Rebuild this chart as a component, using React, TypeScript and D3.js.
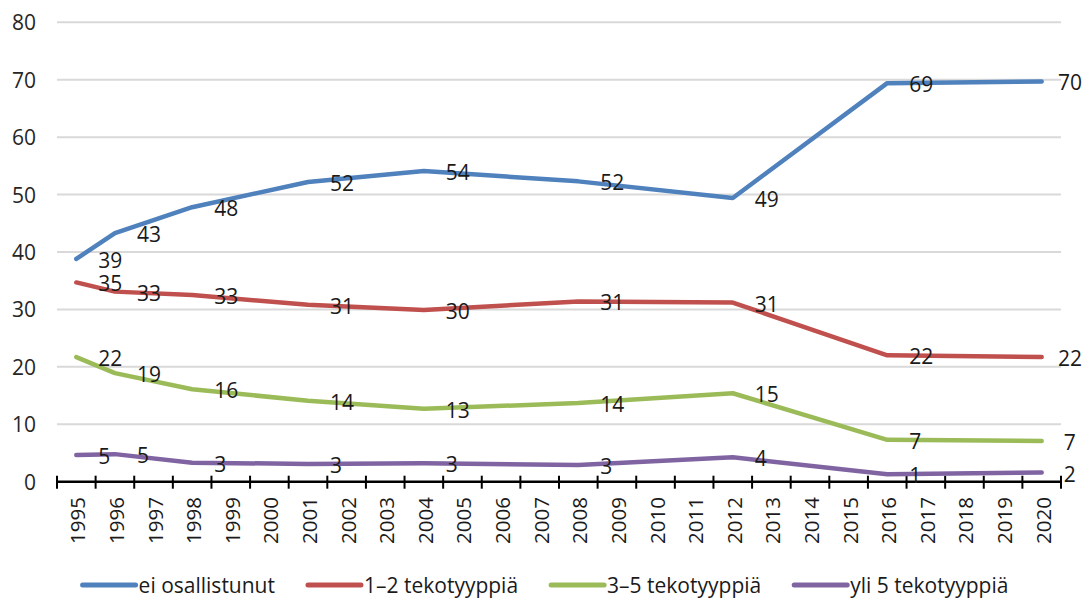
import React from "react";
import * as d3 from "d3";

const years: string[] = Array.from({ length: 26 }, (_, i) => String(1995 + i));
const dataYears: string[] = ["1995", "1996", "1998", "2001", "2004", "2008", "2012", "2016", "2020"];
const eiOsallistunut: number[] = [38.8, 43.3, 47.8, 52.2, 54.1, 52.3, 49.4, 69.4, 69.7];
const tekotyyppia12: number[] = [34.7, 33.1, 32.5, 30.8, 29.9, 31.4, 31.2, 22.0, 21.7];
const tekotyyppia35: number[] = [21.7, 18.9, 16.1, 14.1, 12.7, 13.7, 15.4, 7.3, 7.1];
const yli5: number[] = [4.65, 4.8, 3.3, 3.1, 3.2, 2.9, 4.25, 1.3, 1.6];
const seriesNames: string[] = ["ei osallistunut", "1–2 tekotyyppiä", "3–5 tekotyyppiä", "yli 5 tekotyyppiä"];
const seriesColors: string[] = ["#4f81bd", "#c0504d", "#9bbb59", "#8064a2"];
const yTicks: number[] = [0, 10, 20, 30, 40, 50, 60, 70, 80];

const W = 1086;
const H = 599;
const FONT = "'Open Sans', sans-serif";

function measure(text: string, size: number): number {
  if (typeof document === "undefined") return text.length * size * 0.55;
  const c = document.createElement("canvas");
  const ctx = c.getContext("2d");
  if (!ctx) return text.length * size * 0.55;
  ctx.font = `${size}px 'Open Sans'`;
  return ctx.measureText(text).width;
}

export default function App() {
  const x = d3.scaleBand<string>().domain(years).range([57, 1061]).padding(0);
  const y = d3.scaleLinear().domain([0, 80]).range([481.7, 22.3]);
  const cx = (yr: string) => (x(yr) as number) + x.bandwidth() / 2;

  const allSeries = [eiOsallistunut, tekotyyppia12, tekotyyppia35, yli5];
  const line = d3
    .line<number>()
    .x((_, i) => cx(dataYears[i]))
    .y((d) => y(d))
    .curve(d3.curveLinear);

  const labelSize = 21;
  const legendSize = 21;
  const legendLine = 55;
  const legendGap = 30;
  const itemWidths = seriesNames.map((n) => legendLine + 4 + measure(n, legendSize));
  const totalLegend = itemWidths.reduce((a, b) => a + b, 0) + legendGap * (seriesNames.length - 1);
  let lx = 545 - totalLegend / 2;
  const legendX: number[] = itemWidths.map((w) => {
    const v = lx;
    lx += w + legendGap;
    return v;
  });

  return (
    <svg
      width={W}
      height={H}
      style={{ position: "absolute", left: 0, top: 0, background: "#fff" }}
      fontFamily={FONT}
    >
      <rect x={0} y={0} width={W} height={H} fill="#fff" />
      {yTicks.map((t) => (
        <g key={t}>
          {t > 0 && (
            <line x1={57} x2={1061} y1={y(t)} y2={y(t)} stroke="#d9d9d9" strokeWidth={2} />
          )}
          <text
            x={36}
            y={y(t)}
            textAnchor="end"
            dominantBaseline="central"
            fontSize={21}
            fill="#262626"
          >
            {t}
          </text>
        </g>
      ))}
      {/* x axis */}
      <line x1={56} x2={1062} y1={y(0)} y2={y(0)} stroke="#000" strokeWidth={2.5} />
      {years.map((yr) => (
        <line
          key={"t" + yr}
          x1={x(yr) as number}
          x2={x(yr) as number}
          y1={y(0) - 6}
          y2={y(0) + 7}
          stroke="#000"
          strokeWidth={2}
        />
      ))}
      <line x1={1061} x2={1061} y1={y(0) - 6} y2={y(0) + 7} stroke="#000" strokeWidth={2} />
      {years.map((yr) => (
        <text
          key={"l" + yr}
          transform={`translate(${cx(yr) + 1},497) rotate(-90)`}
          textAnchor="end"
          dominantBaseline="central"
          fontSize={20.5}
          fill="#1a1a1a"
        >
          {yr}
        </text>
      ))}
      {allSeries.map((s, si) => (
        <path
          key={"s" + si}
          d={line(s) || ""}
          fill="none"
          stroke={seriesColors[si]}
          strokeWidth={4.5}
          strokeLinejoin="round"
          strokeLinecap="round"
        />
      ))}
      {allSeries.map((s, si) =>
        s.map((v, i) => {
          const px = cx(dataYears[i]);
          const txt = String(Math.round(v));
          const w = measure(txt, labelSize);
          let tx = px + 22;
          if (tx + w > 1082) tx = 1082 - w;
          return (
            <text
              key={`d${si}-${i}`}
              x={tx}
              y={y(v) + 1}
              dominantBaseline="central"
              fontSize={labelSize}
              fill="#1a1a1a"
            >
              {txt}
            </text>
          );
        })
      )}
      {seriesNames.map((n, i) => (
        <g key={"lg" + i}>
          <line
            x1={legendX[i] + 2}
            x2={legendX[i] + legendLine}
            y1={585}
            y2={585}
            stroke={seriesColors[i]}
            strokeWidth={5}
            strokeLinecap="round"
          />
          <text
            x={legendX[i] + legendLine + 3}
            y={585}
            dominantBaseline="central"
            fontSize={legendSize}
            fill="#1a1a1a"
          >
            {n}
          </text>
        </g>
      ))}
    </svg>
  );
}
